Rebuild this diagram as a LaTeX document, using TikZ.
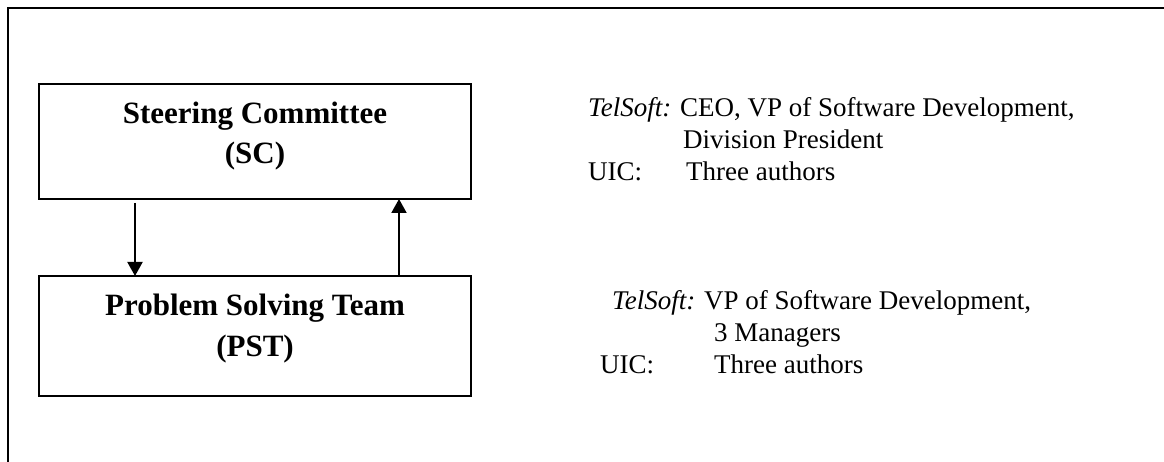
\documentclass[tikz,border=0pt]{standalone}
\usepackage{fontspec}
\setmainfont{Liberation Serif}
\usetikzlibrary{arrows.meta}
\begin{document}
\begin{tikzpicture}[x=1pt,y=-1pt,
  box/.style={draw,line width=2pt},
  big/.style={font=\fontsize{31}{36}\selectfont\bfseries,anchor=base,inner sep=0pt},
  txt/.style={font=\fontsize{27}{32}\selectfont,anchor=base west,inner sep=0pt},
  arr/.style={line width=2pt,-{Triangle[length=14pt,width=15pt]}}]
\useasboundingbox (0,0) rectangle (1164,462);
\coordinate (fb) at (8,462);
\coordinate (ft) at (8,8);
\coordinate (fr) at (1164,8);
\draw[line width=2.2pt] (fb) -- (ft) -- (fr);
\draw[box] (39,84) rectangle (471,199);
\draw[box] (39,276) rectangle (471,396);
\node[big] (sc1) at (255,124) {Steering Committee};
\node[big] (sc2) at (255,164) {(SC)};
\node[big] (ps1) at (255,316) {Problem Solving Team};
\node[big] (ps2) at (255,356) {(PST)};
\coordinate (a1s) at (135,203);
\coordinate (a1e) at (135,276);
\coordinate (a2s) at (399,276);
\coordinate (a2e) at (399,199);
\draw[arr] (a1s) -- (a1e);
\draw[arr] (a2s) -- (a2e);
\node[txt] (t1) at (588,117) {\textit{TelSoft:} CEO, VP of Software Development,};
\node[txt] (t2) at (683,149) {Division President};
\node[txt] (t3) at (588,181) {UIC:};
\node[txt] (t4) at (686,181) {Three authors};
\node[txt] (u1) at (612,309) {\textit{TelSoft:} VP of Software Development,};
\node[txt] (u2) at (714,341) {3 Managers};
\node[txt] (u3) at (600,373) {UIC:};
\node[txt] (u4) at (714,373) {Three authors};
\end{tikzpicture}
\end{document}
